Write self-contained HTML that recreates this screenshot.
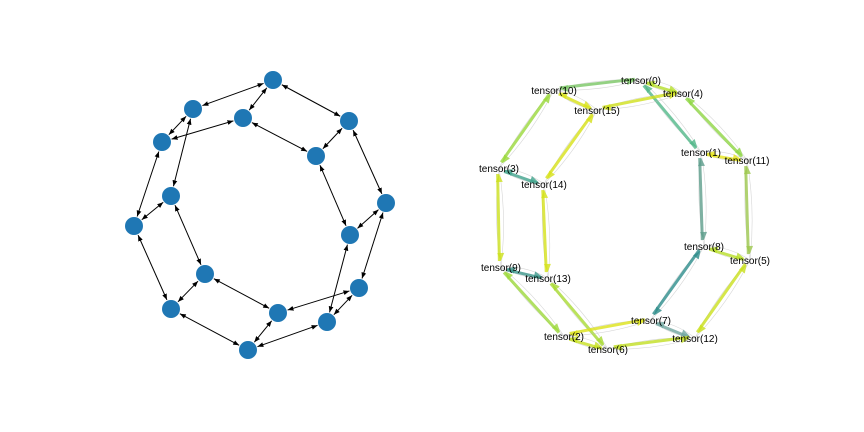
<!DOCTYPE html>
<html><head><meta charset="utf-8"><style>
html,body{margin:0;padding:0;background:#fff;}
svg{display:block;font-family:"Liberation Sans",sans-serif;}
</style></head><body>
<svg id="chart" width="864" height="432" viewBox="0 0 864 432">
<defs>
<marker id="ah" viewBox="0 0 10 10" refX="10" refY="5" markerWidth="6" markerHeight="6" orient="auto-start-reverse"><path d="M0,1 L10,5 L0,9 z" fill="#000"/></marker>
</defs>
<g id="left"></g>
<g id="right"></g>
</svg>
<script>
const leftNodes=[[273,80],[193,109],[243,118],[349,121],[162,142],[316,156],[171,196],[386,203],[134,226],[350,235],[205,274],[359,288],[171,309],[278,313],[327,322],[248,350]];
const leftEdges=[[0,1],[0,2],[0,3],[1,4],[1,6],[2,4],[2,5],[3,5],[3,7],[4,8],[6,8],[6,10],[8,12],[7,9],[7,11],[5,9],[9,14],[10,12],[10,13],[11,13],[11,14],[12,15],[13,15],[14,15]];
const rightLabels=["tensor(0)","tensor(10)","tensor(4)","tensor(15)","tensor(1)","tensor(11)","tensor(3)","tensor(14)","tensor(8)","tensor(5)","tensor(9)","tensor(13)","tensor(7)","tensor(2)","tensor(12)","tensor(6)"];
const rightNodes=[[641,80],[554,90],[683,93],[597,110],[701,152],[747,160],[499,168],[544,184],[704,246],[750,260],[501,267],[548,278],[651,320],[564,336],[695,338],[608,349]];
const rightEdges=[[0,1],[0,2],[0,4],[1,3],[1,6],[2,3],[2,5],[3,7],[4,8],[4,5],[5,9],[6,7],[6,10],[7,11],[8,9],[8,12],[9,14],[10,11],[10,13],[11,15],[12,13],[12,14],[14,15],[13,15]];
const rightColors=["#7ac665","#b5de2b","#52b889","#d8e219","#9bd93c","#d0e11c","#8fd744","#d8e219","#5e9e8c","#e5e419","#9dc84e","#3fa28b","#cde11d","#d5e21a","#b8de29","#2e8d8b","#cbe11e","#3b968a","#9dd93b","#a9db33","#dde318","#71a6a0","#c2df23","#c7e020"];
const NS="http://www.w3.org/2000/svg";
function mk(t,a,p){const e=document.createElementNS(NS,t);for(const k in a)e.setAttribute(k,a[k]);p.appendChild(e);return e;}
const L=document.getElementById('left'),R=document.getElementById('right');
leftEdges.forEach(([a,b])=>{
  const [x1,y1]=leftNodes[a],[x2,y2]=leftNodes[b];const dx=x2-x1,dy=y2-y1,d=Math.hypot(dx,dy),r=10;
  const e=mk('line',{x1:x1+dx/d*r,y1:y1+dy/d*r,x2:x2-dx/d*r,y2:y2-dy/d*r,stroke:'#000','stroke-width':1,'marker-start':'url(#ah)','marker-end':'url(#ah)'},L);
  
  
});
leftNodes.forEach(([x,y])=>{
  const c=mk('circle',{cx:x,cy:y,r:9,fill:'#1f77b4'},L);
  
  
});
rightEdges.forEach(([a,b],i)=>{
  const [x1,y1]=rightNodes[a],[x2,y2]=rightNodes[b];const dx=x2-x1,dy=y2-y1,d=Math.hypot(dx,dy);
  const nx=-dy/d,ny=dx/d;
  [-1,1].forEach(s=>{
    const mx=(x1+x2)/2+nx*s*7,my=(y1+y2)/2+ny*s*7;
    const g=mk('path',{d:`M${x1},${y1} Q${mx},${my} ${x2},${y2}`,fill:'none',stroke:'#bbb','stroke-width':0.6,opacity:0.6},R);
    
    
  });
  const sx=x1+dx/d*6,sy=y1+dy/d*6,ex=x2-dx/d*6,ey=y2-dy/d*6;
  const col=rightColors[i%rightColors.length];
  const e=mk('line',{x1:sx+nx*1.5,y1:sy+ny*1.5,x2:ex+nx*1.5,y2:ey+ny*1.5,stroke:col,'stroke-width':3,opacity:0.8},R);
  
  
  [[ex,ey,dx/d,dy/d],[sx,sy,-dx/d,-dy/d]].forEach(([px,py,ux,uy])=>{
    const p=mk('path',{d:`M${px},${py} L${px-ux*8+uy*3.5},${py-uy*8-ux*3.5} L${px-ux*8-uy*3.5},${py-uy*8+ux*3.5} z`,fill:col,opacity:0.8},R);
    
    
  });
});
rightNodes.forEach(([x,y],i)=>{
  const t=mk('text',{x:x,y:y+4,'text-anchor':'middle','font-size':10,fill:'#000'},R);
  t.textContent=rightLabels[i];
  
  
});
</script>
</body></html>
